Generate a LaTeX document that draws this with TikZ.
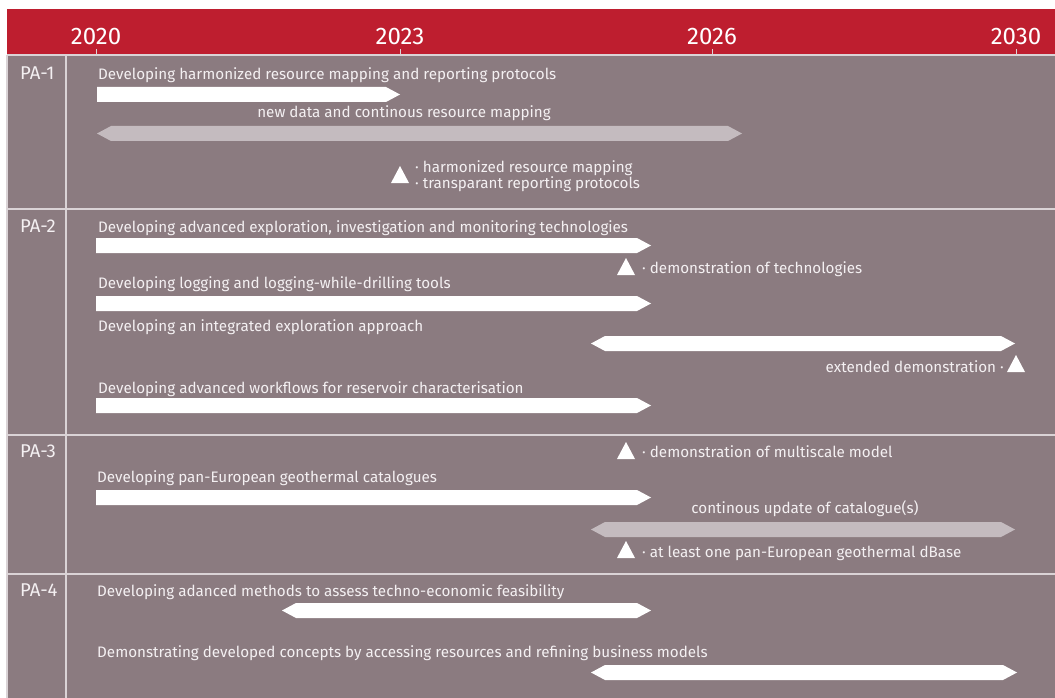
\documentclass[tikz,border=0pt]{standalone}
\usepackage{fontspec}
\setmainfont{Fira Sans}
\usepackage{xcolor}

\definecolor{hdrred}{HTML}{BE1E2F}
\definecolor{panel}{HTML}{8B7B80}
\definecolor{rulecol}{HTML}{DAD3D6}
\definecolor{lgbar}{HTML}{C4BBBF}
\definecolor{txtcol}{HTML}{F4F0F2}

\tikzset{
  lbl/.style={anchor=base west,inner sep=0,text=txtcol,font=\fontsize{15.2}{17}\selectfont},
  lblc/.style={lbl,anchor=base},
  lble/.style={lbl,anchor=base east},
  pa/.style={lbl,font=\fontsize{18.5}{20}\selectfont},
  yr/.style={anchor=base,inner sep=0,text=white,font=\fontsize{24}{26}\selectfont},
  wbar/.style={fill=white},
  gbar/.style={fill=lgbar},
  sep/.style={draw=rulecol,line width=1.5pt}
}

% #1 style, #2 left x, #3 tip x, #4 top y
\newcommand{\taskbar}[4]{\fill[#1] (#2,#4) -- ({#3-14},#4) -- (#3,{#4+7.5})
  -- ({#3-14},{#4+15}) -- (#2,{#4+15}) -- cycle;}
\newcommand{\spanbar}[4]{\fill[#1] (#2,{#4+7.5}) -- ({#2+14},#4) -- ({#3-14},#4)
  -- (#3,{#4+7.5}) -- ({#3-14},{#4+15}) -- ({#2+14},{#4+15}) -- cycle;}
% #1 left x, #2 base y
\newcommand{\milestone}[2]{\fill[white] (#1,#2) -- ({#1+18},#2) -- ({#1+9},{#2-17}) -- cycle;}

\begin{document}
\begin{tikzpicture}[x=1pt,y=-1pt]

\useasboundingbox (0,0) rectangle (1055,698);

\def\yTwenty{96}
\def\yTwentyThree{400}
\def\yTwentySix{712}
\def\yThirty{1016}

\fill[hdrred] (7,9) rectangle (1055,55);
\fill[panel] (7,55) rectangle (1055,698);
\draw[sep] (7,55) -- (1055,55);
\draw[sep] (7,55) -- (7,698);
\draw[sep] (66,55) -- (66,698);
\draw[sep] (7,209) -- (1055,209);
\draw[sep] (7,435) -- (1055,435);
\draw[sep] (7,574) -- (1055,574);

\foreach \x in {\yTwenty,\yTwentyThree,\yTwentySix,\yThirty}
  \draw[rulecol,line width=1pt] (\x,49) -- (\x,55);

\node[yr] (y2020) at (\yTwenty,45) {2020};
\node[yr] (y2023) at (\yTwentyThree,45) {2023};
\node[yr] (y2026) at (\yTwentySix,45) {2026};
\node[yr] (y2030) at (\yThirty,45) {2030};

\node[pa] (pa1) at (20,80) {PA-1};
\node[pa] (pa2) at (20,232) {PA-2};
\node[pa] (pa3) at (20,457) {PA-3};
\node[pa] (pa4) at (20,596) {PA-4};

% PA-1
\node[lbl] (t11) at (98,80) {Developing harmonized resource mapping and reporting protocols};
\taskbar{wbar}{97}{400}{87}
\node[lblc] (t12) at (404,118) {new data and continous resource mapping};
\spanbar{gbar}{97}{742}{126}
\milestone{391}{183}
\node[lbl] (m11) at (415,172) {· harmonized resource mapping};
\node[lbl] (m12) at (415,189) {· transparant reporting protocols};

% PA-2
\node[lbl] (t21) at (98,232) {Developing advanced exploration, investigation and monitoring technologies};
\taskbar{wbar}{96}{651}{238}
\milestone{617}{275}
\node[lbl] (m21) at (642,273) {· demonstration of technologies};
\node[lbl] (t22) at (98,288) {Developing logging and logging-while-drilling tools};
\taskbar{wbar}{96}{651}{296}
\node[lbl] (t23) at (98,331) {Developing an integrated exploration approach};
\spanbar{wbar}{591}{1015}{336}
\node[lble] (m22) at (1004,372) {extended demonstration ·};
\milestone{1007}{372}
\node[lbl] (t24) at (98,393) {Developing advanced workflows for reservoir characterisation};
\taskbar{wbar}{96}{651}{398}

% PA-3
\milestone{617}{459}
\node[lbl] (m31) at (642,457) {· demonstration of multiscale model};
\node[lbl] (t31) at (97,482) {Developing pan-European geothermal catalogues};
\taskbar{wbar}{96}{651}{490}
\node[lblc] (t32) at (805,513) {continous update of catalogue(s)};
\spanbar{gbar}{591}{1015}{522}
\milestone{617}{558}
\node[lbl] (m32) at (642,557) {· at least one pan-European geothermal dBase};

% PA-4
\node[lbl] (t41) at (97,596) {Developing adanced methods to assess techno-economic feasibility};
\spanbar{wbar}{282}{651}{603}
\node[lbl] (t42) at (97,657) {Demonstrating developed concepts by accessing resources and refining business models};
\spanbar{wbar}{591}{1017}{665}

\end{tikzpicture}
\end{document}
